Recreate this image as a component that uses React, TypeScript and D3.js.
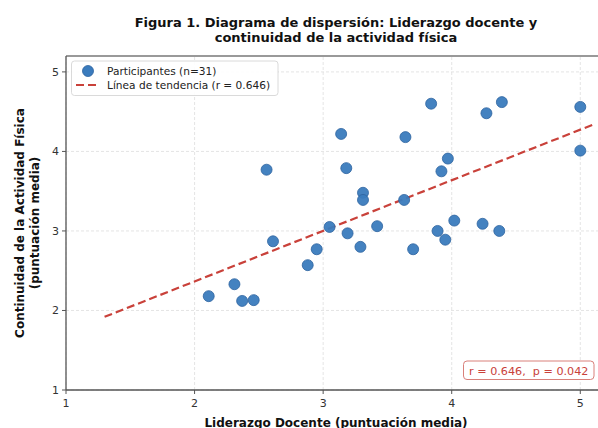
import React, { useEffect, useRef } from 'react';
import * as d3 from 'd3';

// Liderazgo docente (x) vs continuidad de la actividad física (y), n = 31
const liderazgo = [
  2.11, 2.31, 2.37, 2.46, 2.56, 2.61, 2.88, 2.95, 3.05, 3.14, 3.18,
  3.19, 3.29, 3.31, 3.31, 3.42, 3.63, 3.64, 3.70, 3.84, 3.89, 3.92,
  3.95, 3.97, 4.02, 4.24, 4.27, 4.37, 4.39, 5.0, 5.0,
];
const continuidad = [
  2.18, 2.33, 2.12, 2.13, 3.77, 2.87, 2.57, 2.77, 3.05, 4.22, 3.79,
  2.97, 2.80, 3.48, 3.39, 3.06, 3.39, 4.18, 2.77, 4.60, 3.00, 3.75,
  2.89, 3.91, 3.13, 3.09, 4.48, 3.00, 4.62, 4.56, 4.01,
];
const trendX = [1.3, 5.12];
const trendY = [1.92, 4.35];
const xTicks = [1, 2, 3, 4, 5];
const yTicks = [1, 2, 3, 4, 5];

const App: React.FC = () => {
  const ref = useRef<SVGSVGElement | null>(null);

  useEffect(() => {
    if (!ref.current) return;
    const width = 598;
    const height = 428;
    const margin = { top: 56, right: -8, bottom: 38, left: 66 };
    const font = 'DejaVu Sans, sans-serif';

    d3.select(ref.current).selectAll('*').remove();
    const svg = d3.select(ref.current).attr('width', width).attr('height', height);

    const x = d3.scaleLinear().domain([1, 5.2]).range([margin.left, width - margin.right]);
    const y = d3.scaleLinear().domain([1, 5.2]).range([height - margin.bottom, margin.top]);

    // grid
    const grid = svg.append('g');
    grid.selectAll('line.gx').data(xTicks).enter().append('line')
      .attr('x1', d => x(d)).attr('x2', d => x(d))
      .attr('y1', y(1)).attr('y2', y(5.2))
      .attr('stroke', '#dddddd').attr('stroke-width', 0.8).attr('stroke-dasharray', '3,2');
    grid.selectAll('line.gy').data(yTicks).enter().append('line')
      .attr('x1', x(1)).attr('x2', x(5.2))
      .attr('y1', d => y(d)).attr('y2', d => y(d))
      .attr('stroke', '#dddddd').attr('stroke-width', 0.8).attr('stroke-dasharray', '3,2');

    // spines
    svg.append('line').attr('x1', x(1)).attr('x2', x(5.2)).attr('y1', y(5.2)).attr('y2', y(5.2))
      .attr('stroke', '#777').attr('stroke-width', 1.3);
    svg.append('line').attr('x1', x(1)).attr('x2', x(5.2)).attr('y1', y(1)).attr('y2', y(1))
      .attr('stroke', '#555').attr('stroke-width', 1.3);
    svg.append('line').attr('x1', x(1)).attr('x2', x(1)).attr('y1', y(1)).attr('y2', y(5.2))
      .attr('stroke', '#555').attr('stroke-width', 1.3);

    // ticks
    const xt = svg.append('g');
    xTicks.forEach(t => {
      xt.append('line').attr('x1', x(t)).attr('x2', x(t)).attr('y1', y(1)).attr('y2', y(1) + 4)
        .attr('stroke', '#555');
      xt.append('text').attr('x', x(t)).attr('y', y(1) + 17).attr('text-anchor', 'middle')
        .attr('font-family', font).attr('font-size', 11).attr('fill', '#333').text(t);
    });
    yTicks.forEach(t => {
      xt.append('line').attr('x1', x(1) - 4).attr('x2', x(1)).attr('y1', y(t)).attr('y2', y(t))
        .attr('stroke', '#555');
      xt.append('text').attr('x', x(1) - 7).attr('y', y(t) + 4).attr('text-anchor', 'end')
        .attr('font-family', font).attr('font-size', 11).attr('fill', '#333').text(t);
    });

    // trend line
    svg.append('path')
      .datum(trendX.map((v, i) => [v, trendY[i]] as [number, number]))
      .attr('d', d3.line<[number, number]>().x(d => x(d[0])).y(d => y(d[1])))
      .attr('fill', 'none').attr('stroke', '#c9413a').attr('stroke-width', 2.2)
      .attr('stroke-dasharray', '8,4');

    // points
    svg.selectAll('circle.pt').data(liderazgo).enter().append('circle')
      .attr('class', 'pt')
      .attr('cx', d => x(d))
      .attr('cy', (d, i) => y(continuidad[i]))
      .attr('r', 5.5)
      .attr('fill', '#3a7bbd').attr('fill-opacity', 0.95)
      .attr('stroke', '#2d63a0').attr('stroke-width', 0.8);

    // legend
    const lg = svg.append('g');
    lg.append('rect').attr('x', 71.5).attr('y', 61).attr('width', 206.5).attr('height', 34.5)
      .attr('rx', 3).attr('fill', 'white').attr('fill-opacity', 0.9)
      .attr('stroke', '#d0d0d0').attr('stroke-width', 0.8);
    lg.append('circle').attr('cx', 88).attr('cy', 71).attr('r', 5.5)
      .attr('fill', '#3a7bbd').attr('stroke', '#2d63a0').attr('stroke-width', 0.8);
    lg.append('line').attr('x1', 76).attr('x2', 98).attr('y1', 85).attr('y2', 85)
      .attr('stroke', '#c9413a').attr('stroke-width', 2.2).attr('stroke-dasharray', '8,4');
    lg.append('text').attr('x', 107).attr('y', 74.5).attr('font-family', font)
      .attr('font-size', 10.6).attr('fill', '#222').text('Participantes (n=31)');
    lg.append('text').attr('x', 107).attr('y', 88.5).attr('font-family', font)
      .attr('font-size', 10.6).attr('fill', '#222').text('Línea de tendencia (r = 0.646)');

    // stats box
    svg.append('rect').attr('x', 463.5).attr('y', 361).attr('width', 130.5).attr('height', 18.5)
      .attr('rx', 3.5).attr('fill', 'white').attr('stroke', '#d9807a').attr('stroke-width', 1);
    svg.append('text').attr('x', 528.75).attr('y', 374.5).attr('text-anchor', 'middle')
      .attr('font-family', font).attr('font-size', 11.2).attr('fill', '#c9413a')
      .attr('xml:space', 'preserve').style('white-space', 'pre')
      .text('r = 0.646,  p = 0.042');

    // title
    const title = svg.append('text').attr('text-anchor', 'middle').attr('font-family', font)
      .attr('font-size', 13).attr('font-weight', 'bold').attr('fill', '#111');
    title.append('tspan').attr('x', 336).attr('y', 27)
      .text('Figura 1. Diagrama de dispersión: Liderazgo docente y');
    title.append('tspan').attr('x', 336).attr('y', 42)
      .text('continuidad de la actividad física');

    // axis labels
    svg.append('text').attr('x', 336).attr('y', 426.5).attr('text-anchor', 'middle')
      .attr('font-family', font).attr('font-size', 12).attr('font-weight', 'bold')
      .attr('fill', '#111').text('Liderazgo Docente (puntuación media)');
    const yl = svg.append('text').attr('text-anchor', 'middle').attr('font-family', font)
      .attr('font-size', 12).attr('font-weight', 'bold').attr('fill', '#111')
      .attr('transform', `translate(0, ${(y(1) + y(5.2)) / 2}) rotate(-90)`);
    yl.append('tspan').attr('x', 0).attr('y', 24).text('Continuidad de la Actividad Física');
    yl.append('tspan').attr('x', 0).attr('y', 39).text('(puntuación media)');
  }, []);

  return (
    <div style={{ position: 'absolute', left: 0, top: 0, width: 598, height: 428, overflow: 'hidden', background: 'white' }}>
      <svg ref={ref} style={{ display: 'block' }} />
    </div>
  );
};

export default App;
